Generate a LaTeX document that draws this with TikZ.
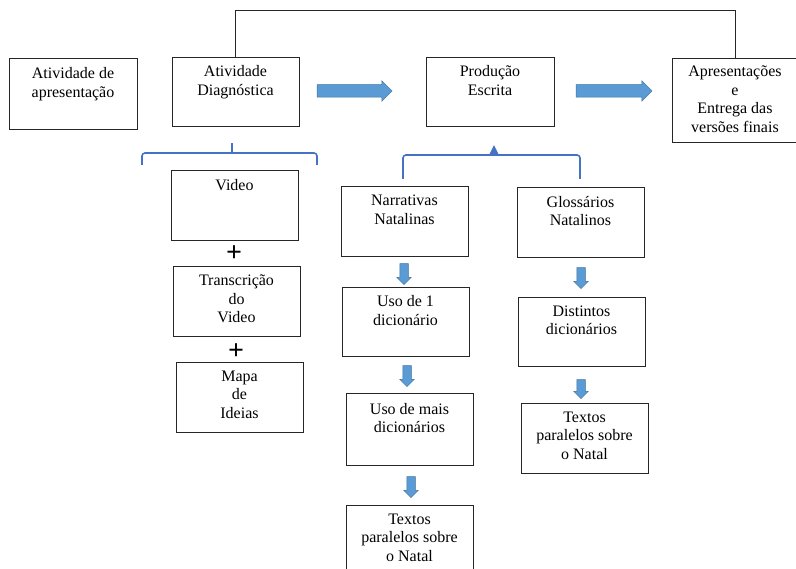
\documentclass[tikz,border=0pt]{standalone}
\usepackage{fontspec}
\setmainfont{Liberation Serif}
\usetikzlibrary{shapes.arrows}
\definecolor{azul}{RGB}{91,155,213}
\definecolor{azulesc}{RGB}{65,113,156}
\definecolor{chaveazul}{RGB}{68,114,196}
\newcommand{\ctxt}[2][52]{\parbox[c][#1pt][t]{125pt}{\centering #2}}
\begin{document}
\begin{tikzpicture}[x=1pt,y=-1pt]
\tikzstyle{caixa}=[draw=black!85,line width=0.9pt,inner sep=0pt,minimum width=127pt,minimum height=70pt,font=\fontsize{16}{18.5}\selectfont];
\tikzstyle{seta}=[single arrow,fill=azul,draw=azulesc,line width=0.5pt,inner sep=6pt,minimum height=75pt,single arrow head extend=4pt];
\tikzstyle{setab}=[single arrow,shape border rotate=270,fill=azul,draw=azulesc,line width=0.5pt,inner sep=4pt,minimum height=21pt,single arrow head extend=3pt];
\tikzstyle{chave}=[draw=chaveazul,line width=1.6pt];
\useasboundingbox (0,0) rectangle (796,569);

% linha de cima
\draw (73,93.5) node[caixa,minimum width=128pt,minimum height=71pt] (apres) {\ctxt{Atividade de\\apresentação}};
\draw (235.5,91.5) node[caixa,minimum height=69pt] (diag) {\ctxt{Atividade\\Diagnóstica}};
\draw (490,91.5) node[caixa,minimum width=128pt,minimum height=69pt] (prod) {\ctxt{Produção\\Escrita}};
\draw (735,100) node[caixa,minimum width=121pt,minimum height=84pt] (final) {\ctxt[68]{Apresentações\\e\\Entrega das\\versões finais}};
\draw (351.5,91) node[seta] (s1) {};
\draw (611,91) node[seta,minimum height=76pt] (s2) {};
\draw[line width=0.9pt,black!85] (diag.north) -- ++(0,-46) -| (final.north);

% chaves
\draw[chave,rounded corners=3pt] (142,165) -- (142,153) -- (317,153) -- (317,165);
\draw[chave] (232,153) -- (232,143);
\draw[chave,rounded corners=3pt] (403,179) -- (403,155) -- (580,155) -- (580,179);
\draw[chave,fill=chaveazul] (490,155) -- (494,147) -- (498,155);

% coluna da esquerda
\draw (234.5,205) node[caixa] (video) {\ctxt{Video}};
\draw (234,254) node (mais1) {\fontsize{28}{28}\selectfont\textbf{+}};
\draw (236.5,301) node[caixa] (transc) {\ctxt{Transcrição\\do\\Video}};
\draw (236,352) node (mais2) {\fontsize{28}{28}\selectfont\textbf{+}};
\draw (239.5,397) node[caixa] (mapa) {\ctxt{Mapa\\de\\Ideias}};

% narrativas
\draw (404.5,221) node[caixa] (narr) {\ctxt{Narrativas\\Natalinas}};
\draw (404,272) node[setab] (b1) {};
\draw (405.5,321.5) node[caixa,minimum height=69pt] (uso1) {\ctxt{Uso de 1\\dicionário}};
\draw (407,374) node[setab] (b2) {};
\draw (409.5,429) node[caixa,minimum height=72pt] (usomais) {\ctxt{Uso de mais\\dicionários}};
\draw (411,485) node[setab] (b3) {};
\draw (409.5,540) node[caixa] (textosa) {\ctxt{Textos\\paralelos sobre\\o Natal}};

% glossarios
\draw (580.5,222) node[caixa] (gloss) {\ctxt{Glossários\\Natalinos}};
\draw (581,276) node[setab] (b4) {};
\draw (581.5,331.5) node[caixa,minimum height=69pt] (dist) {\ctxt{Distintos\\dicionários}};
\draw (581,387) node[setab,minimum height=19pt] (b5) {};
\draw (584.5,438) node[caixa] (textosb) {\ctxt{Textos\\paralelos sobre\\o Natal}};
\end{tikzpicture}
\end{document}
